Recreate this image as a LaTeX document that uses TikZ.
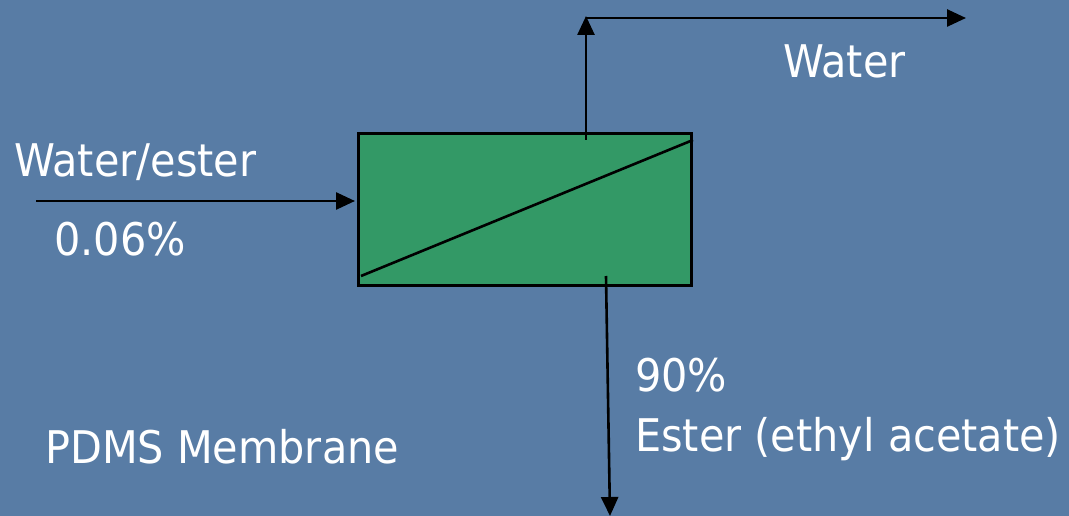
\documentclass[tikz,border=0pt]{standalone}
\usepackage{fontspec}
\setmainfont{DejaVu Sans}[FakeStretch=0.92]
\usetikzlibrary{arrows.meta}
\definecolor{bgblue}{RGB}{88,124,165}
\definecolor{boxgreen}{RGB}{51,153,102}
\tikzset{
  px/.style={x=1pt,y=-1pt},
  lbl/.style={text=white,font=\fontsize{45}{52}\selectfont,inner sep=0pt,anchor=base west},
  flow/.style={line width=2.6pt,-{Triangle[length=19pt,width=17pt]}},
  plain/.style={line width=2.6pt}
}
\begin{document}
\begin{tikzpicture}[px]
\fill[bgblue] (0,0) rectangle (1069,516);
\useasboundingbox (0,0) rectangle (1069,516);
% membrane module
\draw[fill=boxgreen,line width=3pt] (358,134) rectangle (691,285);
\coordinate (dA) at (361,276);
\coordinate (dB) at (693,140);
\draw[plain] (dA) -- (dB);
% feed
\coordinate (fin) at (36,201);
\coordinate (fout) at (355,201);
\draw[flow] (fin) -- (fout);
% permeate (top)
\coordinate (pstart) at (586,140);
\coordinate (pcorner) at (586,16);
\coordinate (pcorner2) at (586,18);
\coordinate (pend) at (966,18);
\draw[flow] (pstart) -- (pcorner);
\draw[flow] (pcorner2) -- (pend);
% retentate (bottom)
\coordinate (rstart) at (606,276);
\coordinate (rend) at (610,516);
\draw[flow] (rstart) -- (rend);
% labels
\node[lbl] (water) at (783,78) {Water};
\node[lbl] (feed) at (14,177) {Water/ester};
\node[lbl] (conc) at (54,255) {0.06\%};
\node[lbl] (ninety) at (635,391) {90\%};
\node[lbl] (ester) at (635,451) {Ester (ethyl acetate)};
\node[lbl] (pdms) at (45,463) {PDMS Membrane};
\end{tikzpicture}
\end{document}
